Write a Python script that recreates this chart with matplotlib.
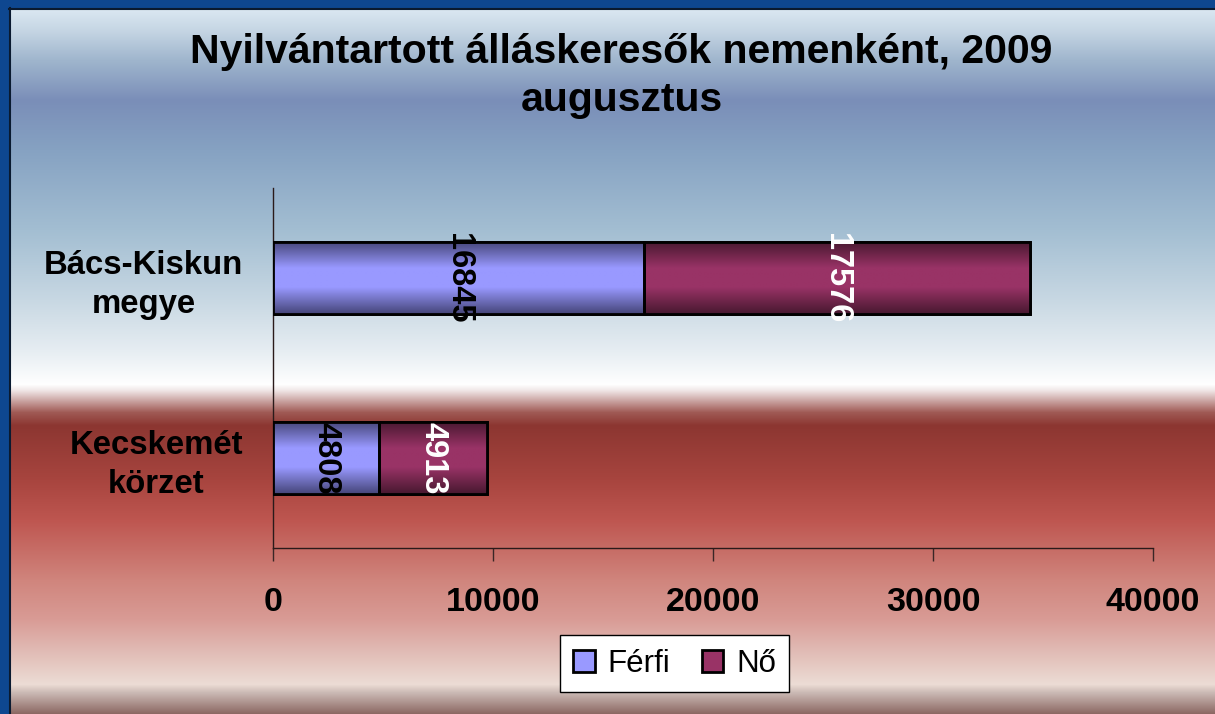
import numpy as np
import matplotlib
matplotlib.use("Agg")
import matplotlib.pyplot as plt
from matplotlib.colors import LinearSegmentedColormap, to_rgb
from matplotlib.patches import Rectangle

plt.rcParams["font.family"] = ["Liberation Sans", "DejaVu Sans"]

# ---------------------------------------------------------------------------
# Data
# ---------------------------------------------------------------------------
TITLE = "Nyilvántartott álláskeresők nemenként, 2009\naugusztus"
categories = ["Kecskemét\nkörzet", "Bács-Kiskun\nmegye"]
ferfi = [4808, 16845]
no = [4913, 17576]
series_names = ["Férfi", "Nő"]
x_ticks = [0, 10000, 20000, 30000, 40000]

W, H = 1215, 714

# background gradient stops (pixel row, colour)
BG_STOPS = [
    (8, "#dce8f2"), (30, "#c6d6e4"), (60, "#9fb5cd"), (100, "#7a8eb8"),
    (150, "#86a2c2"), (230, "#a3bed2"), (300, "#c8d8e3"), (350, "#e6edf2"),
    (384, "#ffffff"), (390, "#f0e6e6"), (412, "#a05a55"), (425, "#8c3631"),
    (480, "#a8453f"), (520, "#be5650"), (580, "#d0857d"), (620, "#d99c96"),
    (655, "#e2bfb9"), (684, "#ecdcd5"), (692, "#cbbab5"), (714, "#8a6560"),
]


def vgrad(stops, n):
    ys = np.arange(n)
    cols = np.array([to_rgb(c) for _, c in stops])
    yp = np.array([p for p, _ in stops], dtype=float)
    return np.stack([np.interp(ys, yp, cols[:, k]) for k in range(3)], axis=-1)


fig = plt.figure(figsize=(W / 100, H / 100), dpi=100)

# --- background ---
bg = fig.add_axes([0, 0, 1, 1], zorder=-10)
bg.set_xlim(0, W)
bg.set_ylim(H, 0)
bg.axis("off")
grad = vgrad(BG_STOPS, H)[:, None, :]
bg.imshow(grad, extent=(0, W, H, 0), aspect="auto", interpolation="bilinear")
bg.add_patch(Rectangle((0, 0), W, 8, color="#0e4790", lw=0))
bg.add_patch(Rectangle((0, 0), 9, H, color="#0e4790", lw=0))
bg.plot([9, W], [8.5, 8.5], color="#0a1a30", lw=1.5)
bg.plot([9.5, 9.5], [8, H], color="#0a1a30", lw=1.5)

fig.text(621.5 / W, 1 - 76 / H, TITLE, ha="center", va="center",
         fontsize=29.5, fontweight="bold", linespacing=1.32)

# --- main axes ---
ax = fig.add_axes([273 / W, (H - 548) / H, 880 / W, 360 / H])
ax.set_facecolor("none")

ypos = np.arange(len(categories))
bar_h = 0.405
b1 = ax.barh(ypos, ferfi, height=bar_h, color="#9999ff", edgecolor="black",
             linewidth=2, label=series_names[0], zorder=3)
b2 = ax.barh(ypos, no, left=ferfi, height=bar_h, color="#993366",
             edgecolor="black", linewidth=2, label=series_names[1], zorder=3)

shade = np.concatenate([np.linspace(0, 1, 30), np.ones(20), np.linspace(1, 0, 30)])
cm_blue = LinearSegmentedColormap.from_list("b", ["#46467a", "#9999ff"])
cm_red = LinearSegmentedColormap.from_list("r", ["#481830", "#993366"])
for bars, cm in ((b1, cm_blue), (b2, cm_red)):
    for p in bars:
        x0, y0 = p.get_x(), p.get_y()
        im = ax.imshow(shade[:, None], cmap=cm, aspect="auto",
                       extent=(x0, x0 + p.get_width(), y0, y0 + p.get_height()),
                       zorder=3.5, interpolation="bilinear")
        im.set_clip_path(p)
        ax.add_patch(Rectangle((x0, y0), p.get_width(), p.get_height(),
                               fill=False, edgecolor="black", lw=2, zorder=4))

for i in range(len(categories)):
    ax.text(ferfi[i] / 2, ypos[i], str(ferfi[i]), rotation=270, ha="center",
            va="center", fontsize=23.5, fontweight="bold", color="black", zorder=5)
    ax.text(ferfi[i] + no[i] / 2, ypos[i], str(no[i]), rotation=270,
            ha="center", va="center", fontsize=23.5, fontweight="bold",
            color="white", zorder=5)

ax.set_xlim(0, 40000)
ax.set_ylim(-0.5, 1.5)
ax.set_xticks(x_ticks)
ax.set_xticklabels([str(t) for t in x_ticks], fontsize=24.5, fontweight="bold")
ax.set_yticks(ypos)
ax.set_yticklabels(categories, fontsize=23.7, fontweight="bold",
                   multialignment="center", linespacing=1.3)
ax.tick_params(axis="x", length=9, width=1, color="#3a2626", pad=19)
ax.tick_params(axis="y", length=0, pad=21.5)
for s in ("top", "right"):
    ax.spines[s].set_visible(False)
for s in ("left", "bottom"):
    ax.spines[s].set_color("#2a1a1a")
    ax.spines[s].set_linewidth(1)

leg = fig.legend(handles=[b1, b2], labels=series_names, loc="center",
                 bbox_to_anchor=(674.5 / W, 1 - 663.5 / H), ncol=2,
                 fontsize=22.5, frameon=True, fancybox=False, edgecolor="black",
                 framealpha=1, handlelength=0.7, handleheight=0.7,
                 handletextpad=0.4, columnspacing=1.0, borderpad=0.42)
leg.get_frame().set_linewidth(1)

fig.savefig("out.png", dpi=100)
